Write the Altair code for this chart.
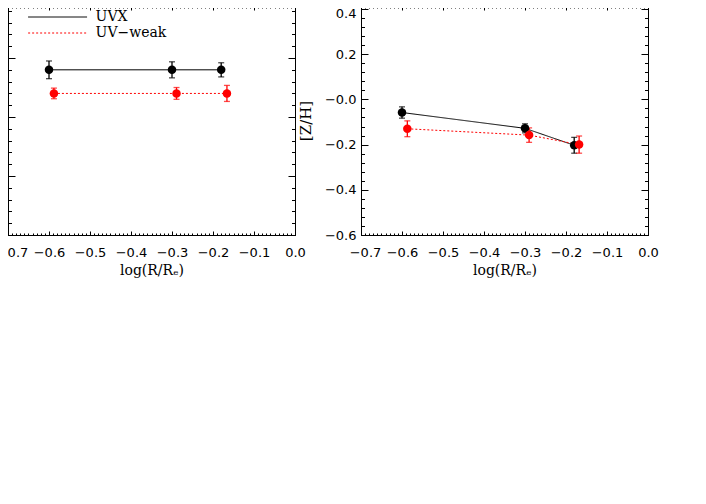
import altair as alt
import pandas as pd

series = ["UVX", "UV−weak"]
colors = ["black", "red"]
dashes = [[1, 0], [2, 2]]

# Left panel (y labels cut off in the reference)
left_uvx_x = [-0.600, -0.300, -0.180]
left_uvx_y = [14.0, 14.0, 14.0]
left_uvx_err = [0.75, 0.68, 0.60]
left_weak_x = [-0.588, -0.289, -0.166]
left_weak_y = [12.0, 12.0, 12.0]
left_weak_err = [0.45, 0.50, 0.68]

# Right panel: [Z/H]
right_uvx_x = [-0.600, -0.300, -0.180]
right_uvx_y = [-0.058, -0.128, -0.203]
right_uvx_err = [0.025, 0.020, 0.035]
right_weak_x = [-0.587, -0.290, -0.168]
right_weak_y = [-0.130, -0.158, -0.200]
right_weak_err = [0.035, 0.032, 0.038]

x_major = [-0.7, -0.6, -0.5, -0.4, -0.3, -0.2, -0.1, 0.0]
x_minor = [round(-0.7 + 0.01 * i, 2) for i in range(71)]
left_y_major = [0, 5, 10, 15]
left_y_minor = list(range(0, 20))
right_y_major = [-0.6, -0.4, -0.2, 0.0, 0.2, 0.4]
right_y_minor = [round(-0.6 + 0.04 * i, 2) for i in range(26)]

W, H = 287, 229


def make_df(ux, uy, ue, wx, wy, we):
    rows = []
    for x, y, e in zip(ux, uy, ue):
        rows.append(dict(series=series[0], x=x, y=y, lo=y - e, hi=y + e))
    for x, y, e in zip(wx, wy, we):
        rows.append(dict(series=series[1], x=x, y=y, lo=y - e, hi=y + e))
    return pd.DataFrame(rows)


def panel(df, ydom, y_major, y_minor, y_labels, y_title, legend):
    xs = alt.Scale(domain=[-0.7, 0.0], nice=False, zero=False)
    ys = alt.Scale(domain=ydom, nice=False, zero=False)
    cscale = alt.Scale(domain=series, range=colors)
    dscale = alt.Scale(domain=series, range=dashes)
    if legend:
        leg = alt.Legend(
            orient="none", legendX=42.6, legendY=4, title=None,
            symbolType="M-5,0L5,0", symbolSize=139, symbolStrokeWidth=1,
            labelFont="DejaVu Serif", labelFontSize=14, labelColor="black",
            labelOffset=31, rowPadding=2, padding=0,
        )
        color = alt.Color("series:N", scale=cscale, legend=leg)
        dash = alt.StrokeDash("series:N", scale=dscale, legend=leg)
    else:
        color = alt.Color("series:N", scale=cscale, legend=None)
        dash = alt.StrokeDash("series:N", scale=dscale, legend=None)
    color_nl = alt.Color("series:N", scale=cscale, legend=None)

    base = alt.Chart(df)
    X = alt.X("x:Q", scale=xs, axis=None)
    Y = alt.Y("y:Q", scale=ys, axis=None)
    line = base.mark_line(strokeWidth=1).encode(x=X, y=Y, color=color, strokeDash=dash)
    err = base.mark_errorbar(ticks=True, size=6, thickness=1.3).encode(
        x=X, y=alt.Y("lo:Q", scale=ys, axis=None), y2="hi:Q", color=color_nl)
    pts = base.mark_circle(size=72, opacity=1).encode(x=X, y=Y, color=color_nl)

    layers = [line, err, pts]

    def carrier(xaxis, yaxis):
        return base.mark_point(opacity=0).encode(
            x=alt.X("x:Q", scale=xs, axis=xaxis),
            y=alt.Y("y:Q", scale=ys, axis=yaxis),
        )

    yfmt = "datum.value > -0.001 && datum.value < 0.001 ? '−0.0' : datum.label"
    ylab_kwargs = dict(orient="left", values=y_major, ticks=False, domain=False,
                       labelPadding=5, grid=False, labelFlush=False, labelOverlap=False)
    if y_labels:
        ylab = alt.Axis(format=".1f", labelExpr=yfmt, title=y_title,
                        titleFont="DejaVu Serif", titleFontSize=15, titlePadding=11,
                        labelOffset={"condition": {"test": "datum.value > 0.3", "value": 4},
                                     "value": 0},
                        **ylab_kwargs)
    else:
        ylab = alt.Axis(labels=False, title=None, **ylab_kwargs)
    xlab = alt.Axis(orient="bottom", values=x_major, ticks=False, domain=False,
                    labelPadding=11, format=".1f", title="log(R/Rₑ)", titlePadding=4,
                    grid=False, labelFlush=False, labelOverlap=False,
                    labelOffset={"condition": {"test": "datum.value < -0.65", "value": 4},
                                 "value": 0})
    layers.append(carrier(xlab, ylab))

    def tick_axes(xorient, yorient, xv, yv, xs_, ys_):
        xa = alt.Axis(orient=xorient, offset=-H, values=xv, tickSize=xs_, labels=False,
                      domain=False, title=None, grid=False, tickWidth=1)
        ya = alt.Axis(orient=yorient, offset=-W, values=yv, tickSize=ys_, labels=False,
                      domain=False, title=None, grid=False, tickWidth=1)
        return carrier(xa, ya)

    layers.append(tick_axes("top", "right", x_major, y_major, 4, 7))
    layers.append(tick_axes("top", "right", x_minor, y_minor, 2, 3.5))
    layers.append(tick_axes("bottom", "left", x_major, y_major, 4, 7))
    layers.append(tick_axes("bottom", "left", x_minor, y_minor, 2, 3.5))

    return alt.layer(*layers).resolve_axis(x="independent", y="independent").properties(
        width=W, height=H)


left_df = make_df(left_uvx_x, left_uvx_y, left_uvx_err, left_weak_x, left_weak_y, left_weak_err)
right_df = make_df(right_uvx_x, right_uvx_y, right_uvx_err, right_weak_x, right_weak_y, right_weak_err)

left = panel(left_df, [0, 19.41], left_y_major, left_y_minor, False, None, True)
right = panel(right_df, [-0.6, 0.4133], right_y_major, right_y_minor, True, "[Z/H]", False)

chart = (
    alt.hconcat(left, right, spacing=66, bounds="flush")
    .resolve_scale(color="independent", strokeDash="independent")
    .configure_view(stroke="black", strokeWidth=1)
    .configure_axis(labelFont="DejaVu Sans", labelFontSize=13, labelColor="black",
                    titleFont="DejaVu Serif", titleFontSize=14, titleColor="black",
                    titleFontWeight="normal", tickColor="black")
    .properties(padding={"left": -13, "top": -3, "right": 5, "bottom": 5}, background="white")
)

chart.save("out.html", embed_options={"renderer": "svg", "actions": False})
